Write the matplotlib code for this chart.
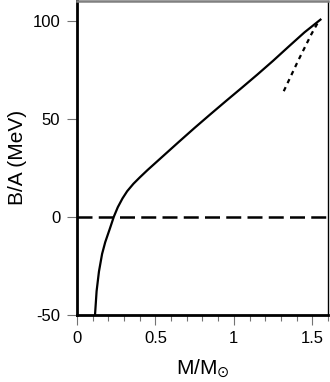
import matplotlib
matplotlib.use("Agg")
import matplotlib.pyplot as plt
from matplotlib.ticker import MultipleLocator

plt.rcParams['font.family'] = ['Liberation Sans', 'DejaVu Sans']
plt.rcParams['axes.unicode_minus'] = False

# solid curve: binding energy per baryon vs mass
mass = [0.115, 0.125, 0.14, 0.16, 0.18, 0.21, 0.235, 0.26, 0.29, 0.32,
        0.36, 0.40, 0.45, 0.55, 0.65, 0.75, 0.85, 0.95, 1.05, 1.15,
        1.25, 1.35, 1.45, 1.552]
ba = [-50, -38, -28, -19, -13, -6, 0, 4.8, 9.3, 13.0,
      16.8, 20.0, 23.8, 31, 38.2, 45.3, 52.2, 59, 65.7, 72.5,
      79.5, 86.8, 94, 100.5]

# dotted branch near the maximum mass
mass_dot = [1.318, 1.41, 1.495, 1.537]
ba_dot = [64.0, 79.6, 93.2, 99.2]

xticks = [0, 0.5, 1, 1.5]
xticklabels = ['0', '0.5', '1', '1.5']
yticks = [-50, 0, 50, 100]

fig = plt.figure(figsize=(3.3, 3.82), dpi=100)
ax = fig.add_axes([0.2333, 0.1762, 0.7606, 0.8212])

ax.plot(mass, ba, color='black', lw=1.6)
ax.plot(mass_dot, ba_dot, color='black', lw=1.6, ls=(0, (2, 2)))
ax.axhline(0, color='black', lw=1.8, ls=(0, (6, 2.5)))

ax.set_xlim(0, 1.6)
ax.set_ylim(-50, 110)
ax.set_xticks(xticks)
ax.set_xticklabels(xticklabels)
ax.set_yticks(yticks)
ax.xaxis.set_minor_locator(MultipleLocator(0.1))

ax.tick_params(which='major', direction='out', length=7, width=0.8,
               color='0.45', labelsize=12, pad=5)
ax.tick_params(which='minor', direction='out', length=4, width=0.8,
               color='0.45')

ax.spines['left'].set_linewidth(2)
ax.spines['bottom'].set_linewidth(2)
ax.spines['top'].set_color('0.5')
ax.spines['top'].set_linewidth(1.8)
ax.spines['right'].set_linewidth(1.0)

ax.set_xlabel(r'M/M$_{\odot}$', fontsize=15, labelpad=8)
ax.set_ylabel('B/A (MeV)', fontsize=15, labelpad=4)

fig.savefig('out.png', dpi=100)
